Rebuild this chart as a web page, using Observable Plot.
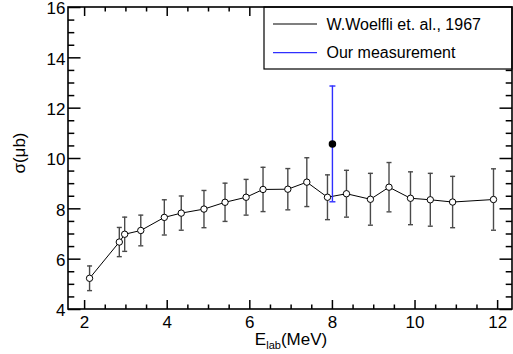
<!DOCTYPE html>
<html>
<head>
<meta charset="utf-8">
<script src="https://cdn.jsdelivr.net/npm/d3@7"></script>
<script src="https://cdn.jsdelivr.net/npm/@observablehq/plot@0.6"></script>
<style>
  body { margin: 0; background: white; }
  #chart { position: relative; width: 513px; height: 354px; }
</style>
</head>
<body>
<div id="chart"></div>
<script>
// Woelfli et al., 1967
const woelfliE = [2.12, 2.84, 2.97, 3.36, 3.93, 4.34, 4.89, 5.40, 5.91, 6.32, 6.92, 7.38, 7.88, 8.34, 8.92, 9.37, 9.89, 10.37, 10.91, 11.90];
const woelfliSigma = [5.24, 6.68, 6.99, 7.14, 7.66, 7.83, 7.99, 8.26, 8.46, 8.77, 8.78, 9.06, 8.46, 8.60, 8.38, 8.86, 8.42, 8.36, 8.27, 8.37];
const woelfliErr = [0.49, 0.58, 0.68, 0.61, 0.70, 0.68, 0.74, 0.76, 0.71, 0.88, 0.82, 0.97, 0.89, 0.93, 1.03, 0.98, 1.05, 1.05, 1.02, 1.22];
// Our measurement
const ourE = [8.0];
const ourSigma = [10.58];
const ourErr = [2.3];
// axis ticks
const xMajor = [2, 4, 6, 8, 10, 12];
const xMinor = [2.5, 3, 3.5, 4.5, 5, 5.5, 6.5, 7, 7.5, 8.5, 9, 9.5, 10.5, 11, 11.5];
const yMajor = [4, 6, 8, 10, 12, 14, 16];
const yMinor = [4.5, 5, 5.5, 6.5, 7, 7.5, 8.5, 9, 9.5, 10.5, 11, 11.5, 12.5, 13, 13.5, 14.5, 15, 15.5];
const legendLabels = ["W.Woelfli et. al., 1967", "Our measurement"];

const woelfli = woelfliE.map((e, i) => ({e, s: woelfliSigma[i], err: woelfliErr[i]}));
const ours = ourE.map((e, i) => ({e, s: ourSigma[i], err: ourErr[i]}));

const FONT = "'Liberation Sans', Arial, Helvetica, sans-serif";
const BLUE = "#2f2fff";
const ERRC = "#4a4a4a";

const W = 513, H = 354, ML = 68, MR = 1, MT = 7, MB = 45;
const FW = W - ML - MR, FH = H - MT - MB;
const X0 = 1.61, X1 = 12.36, Y0 = 4, Y1 = 16;
const kx = (X1 - X0) / FW, ky = (Y1 - Y0) / FH;

const capSymbol = (hw) => ({draw(context) { context.moveTo(-hw, 0); context.lineTo(hw, 0); }});
const tk = {stroke: "#000000", strokeWidth: 1.5};
const xTicks = (vals, len) => [
  Plot.ruleX(vals, {x: d => d, y1: d => Y0, y2: d => Y0 + len * ky, ...tk}),
  Plot.ruleX(vals, {x: d => d, y1: d => Y1, y2: d => Y1 - len * ky, ...tk})
];
const yTicks = (vals, len) => [
  Plot.ruleY(vals, {y: d => d, x1: d => X0, x2: d => X0 + len * kx, ...tk}),
  Plot.ruleY(vals, {y: d => d, x1: d => X1, x2: d => X1 - len * kx, ...tk})
];

const plot = Plot.plot({
  width: W,
  height: H,
  marginLeft: ML,
  marginRight: MR,
  marginTop: MT,
  marginBottom: MB,
  style: {fontFamily: FONT, fontSize: "17px"},
  x: {domain: [X0, X1], axis: null},
  y: {domain: [Y0, Y1], axis: null},
  marks: [
    ...xTicks(xMajor, 9),
    ...xTicks(xMinor, 4.5),
    ...yTicks(yMajor, 12.5),
    ...yTicks(yMinor, 6.3),
    Plot.ruleX(woelfli, {x: "e", y1: d => d.s - d.err, y2: d => d.s + d.err, stroke: ERRC, strokeWidth: 1.4}),
    Plot.dot(woelfli, {x: "e", y: d => d.s + d.err, symbol: capSymbol(2.5), stroke: ERRC, fill: "none", strokeWidth: 1.4}),
    Plot.dot(woelfli, {x: "e", y: d => d.s - d.err, symbol: capSymbol(2.5), stroke: ERRC, fill: "none", strokeWidth: 1.4}),
    Plot.line(woelfli, {x: "e", y: "s", stroke: "black", strokeWidth: 1}),
    Plot.dot(woelfli, {x: "e", y: "s", r: 3.2, stroke: "black", fill: "white", strokeWidth: 1}),
    Plot.ruleX(ours, {x: "e", y1: d => d.s - d.err, y2: d => d.s + d.err, stroke: BLUE, strokeWidth: 1.4}),
    Plot.dot(ours, {x: "e", y: d => d.s + d.err, symbol: capSymbol(3), stroke: BLUE, fill: "none", strokeWidth: 1.4}),
    Plot.dot(ours, {x: "e", y: d => d.s - d.err, symbol: capSymbol(3), stroke: BLUE, fill: "none", strokeWidth: 1.4}),
    Plot.dot(ours, {x: "e", y: "s", r: 3, fill: "black", stroke: "black"}),
    Plot.text(xMajor, {x: d => d, y: Y0, text: d => String(d), lineAnchor: "top", dy: 6, fontSize: 17, fill: "black"}),
    Plot.text(yMajor, {x: X0, y: d => d, text: d => String(d), textAnchor: "end", dx: -3, dy: 1.5, fontSize: 17, fill: "black"})
  ]
});

document.getElementById("chart").appendChild(plot);

const svg = d3.select(plot);
const lg = svg.append("g").attr("font-family", FONT).attr("font-size", 16).attr("text-anchor", "start");
lg.append("rect").attr("x", 264).attr("y", MT).attr("width", W - MR - 264).attr("height", 62)
  .attr("fill", "white").attr("stroke", "black").attr("stroke-width", 1.2);
const legendColors = ["black", BLUE];
const legendY = [24, 52.7];
legendLabels.forEach((lab, i) => {
  lg.append("line").attr("x1", 273).attr("x2", 317).attr("y1", legendY[i]).attr("y2", legendY[i])
    .attr("stroke", legendColors[i]).attr("stroke-width", 1.2);
  lg.append("text").attr("x", 326.5).attr("y", legendY[i] + 5.6).attr("fill", "black")
    .attr("text-anchor", "start").text(lab);
});
svg.append("rect").attr("x", ML).attr("y", MT).attr("width", FW).attr("height", FH)
  .attr("fill", "none").attr("stroke", "black").attr("stroke-width", 1.6);

const xt = svg.append("text").attr("x", 291).attr("y", 345).attr("text-anchor", "middle")
  .attr("font-family", FONT).attr("font-size", 17).attr("fill", "black");
xt.append("tspan").text("E");
xt.append("tspan").attr("font-size", 11).attr("dy", 4).text("lab");
xt.append("tspan").attr("dy", -4).text("(MeV)");
svg.append("text").attr("transform", "translate(25,153) rotate(-90)").attr("text-anchor", "middle")
  .attr("font-family", FONT).attr("font-size", 17).attr("fill", "black").text("σ(μb)");
</script>
</body>
</html>
